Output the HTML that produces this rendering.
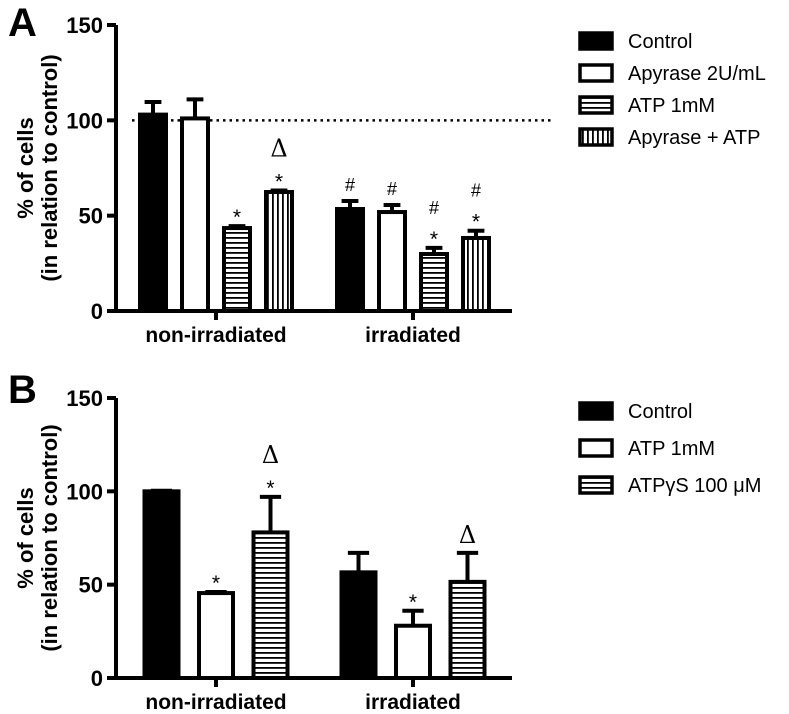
<!DOCTYPE html>
<html><head><meta charset="utf-8"><style>
body{margin:0;background:#fff}
svg{display:block;font-family:"Liberation Sans",Arial,sans-serif}
</style></head><body>
<svg id="c" width="789" height="714" viewBox="0 0 789 714">
<defs>
<pattern id="hz" width="6" height="5" patternUnits="userSpaceOnUse"><rect width="6" height="5" fill="#fff"/><rect y="2" width="6" height="1.8" fill="#000"/></pattern>
<pattern id="vt" width="5" height="6" patternUnits="userSpaceOnUse"><rect width="5" height="6" fill="#fff"/><rect x="2" width="1.8" height="6" fill="#000"/></pattern>
</defs>
</svg>
<script>
const groupsA=["non-irradiated","irradiated"];
const seriesA=["Control","Apyrase 2U/mL","ATP 1mM","Apyrase + ATP"];
const valuesA=[[103,101,43.5,62.4],[53.5,51.9,29.9,38.3]];
const errorsA=[[6.6,10,1,0.8],[4.2,3.7,3.2,3.8]];
const marksA=[["","","*","*Δ"],["#","#","*#","*#"]];
const groupsB=["non-irradiated","irradiated"];
const seriesB=["Control","ATP 1mM","ATPγS 100 μM"];
const valuesB=[[100,45.5,78],[56.6,28,51.5]];
const errorsB=[[0.3,0.6,19],[10.4,8,15.5]];
const marksB=[["","*","*Δ"],["","*","Δ"]];
const ticks=[0,50,100,150];
const fillsA=["#000","#fff","url(#hz)","url(#vt)"];
const fillsB=["#000","#fff","url(#hz)"];
const svg=document.getElementById('c');
const NS="http://www.w3.org/2000/svg";
function el(t,a,txt){const e=document.createElementNS(NS,t);for(const k in a)e.setAttribute(k,a[k]);if(txt!==undefined)e.textContent=txt;svg.appendChild(e);return e;}
function panel(o){
 const y=v=>o.y0-(v/150)*(o.y0-o.y150);
 const L=el('text',{x:o.lx,y:o.ly,'font-size':40,'font-weight':'bold'},o.letter);
 
 
 const ax=el('line',{x1:116,y1:o.y150,x2:116,y2:o.y0,stroke:'#000','stroke-width':4});
 
 
 const xa=el('line',{x1:108,y1:o.y0,x2:512,y2:o.y0,stroke:'#000','stroke-width':4});
 
 
 ticks.forEach(t=>{
  const tl=el('line',{x1:107,y1:y(t),x2:116,y2:y(t),stroke:'#000','stroke-width':4});
  
  
  const tx=el('text',{x:103,y:y(t)+8,'font-size':22,'font-weight':'bold','text-anchor':'end'},t);
  
  
 });
 const cy=(o.y0+o.y150)/2;
 const t1=el('text',{x:0,y:0,'font-size':22,'font-weight':'bold','text-anchor':'middle',transform:`translate(33,${cy}) rotate(-90)`},'% of cells');
 
 
 const t2=el('text',{x:0,y:0,'font-size':22,'font-weight':'bold','text-anchor':'middle',transform:`translate(57,${cy}) rotate(-90)`},'(in relation to control)');
 
 
 if(o.dotted){const d=el('line',{x1:132,y1:y(100),x2:552,y2:y(100),stroke:'#000','stroke-width':2.5,'stroke-dasharray':'2.5 4'});
  
  }
 o.groups.forEach((g,gi)=>{
  const gx=o.gx[gi];
  const tk=el('line',{x1:gx,y1:o.y0,x2:gx,y2:o.y0+9,stroke:'#000','stroke-width':4});
  
  
  const gl=el('text',{x:gx,y:o.y0+31,'font-size':21,'font-weight':'bold','text-anchor':'middle'},g);
  
  
  const n=o.values[gi].length;
  o.values[gi].forEach((v,si)=>{
   const cx=gx+(si-(n-1)/2)*o.pitch;
   const top=y(v), et=y(v+o.errors[gi][si]);
   const el1=el('line',{x1:cx,y1:top,x2:cx,y2:et,stroke:'#000','stroke-width':4});
   
   
   const cap=el('line',{x1:cx-o.w*0.28,y1:et,x2:cx+o.w*0.28,y2:et,stroke:'#000','stroke-width':4});
   
   
   const b=el('rect',{x:cx-o.w/2+2,y:top,width:o.w-4,height:o.y0-top,fill:o.fills[si],stroke:'#000','stroke-width':4});
   
   
   const m=o.marks[gi][si];
   let my=et-10;
   for(let k=0;k<m.length;k++){
    const ch=m[k];
    const big=ch==='Δ';
    const tt=el('text',{x:cx,y:my+(ch==='*'?8:0),'font-size':big?24:(ch==='#'?18:21),'text-anchor':'middle','font-family':big?'"DejaVu Serif",serif':'"Liberation Sans",sans-serif'},ch);
    
    
    my-= big?26:24;
   }
  });
 });
 o.series.forEach((s,i)=>{
  const ly=o.legY+i*o.legStep;
  const r=el('rect',{x:580,y:ly-8,width:32,height:16,fill:o.fills[i],stroke:'#000','stroke-width':3.5});
  
  
  const t=el('text',{x:628,y:ly+7,'font-size':20},s);
  
  
 });
}
panel({letter:'A',lx:8,ly:36,y0:311,y150:25,gx:[216,413],pitch:42,w:30,groups:groupsA,series:seriesA,values:valuesA,errors:errorsA,marks:marksA,fills:fillsA,dotted:true,legY:41,legStep:32});
panel({letter:'B',lx:8,ly:403,y0:678,y150:398,gx:[216,413],pitch:54.5,w:38,groups:groupsB,series:seriesB,values:valuesB,errors:errorsB,marks:marksB,fills:fillsB,dotted:false,legY:411,legStep:37});
</script>
</body></html>
